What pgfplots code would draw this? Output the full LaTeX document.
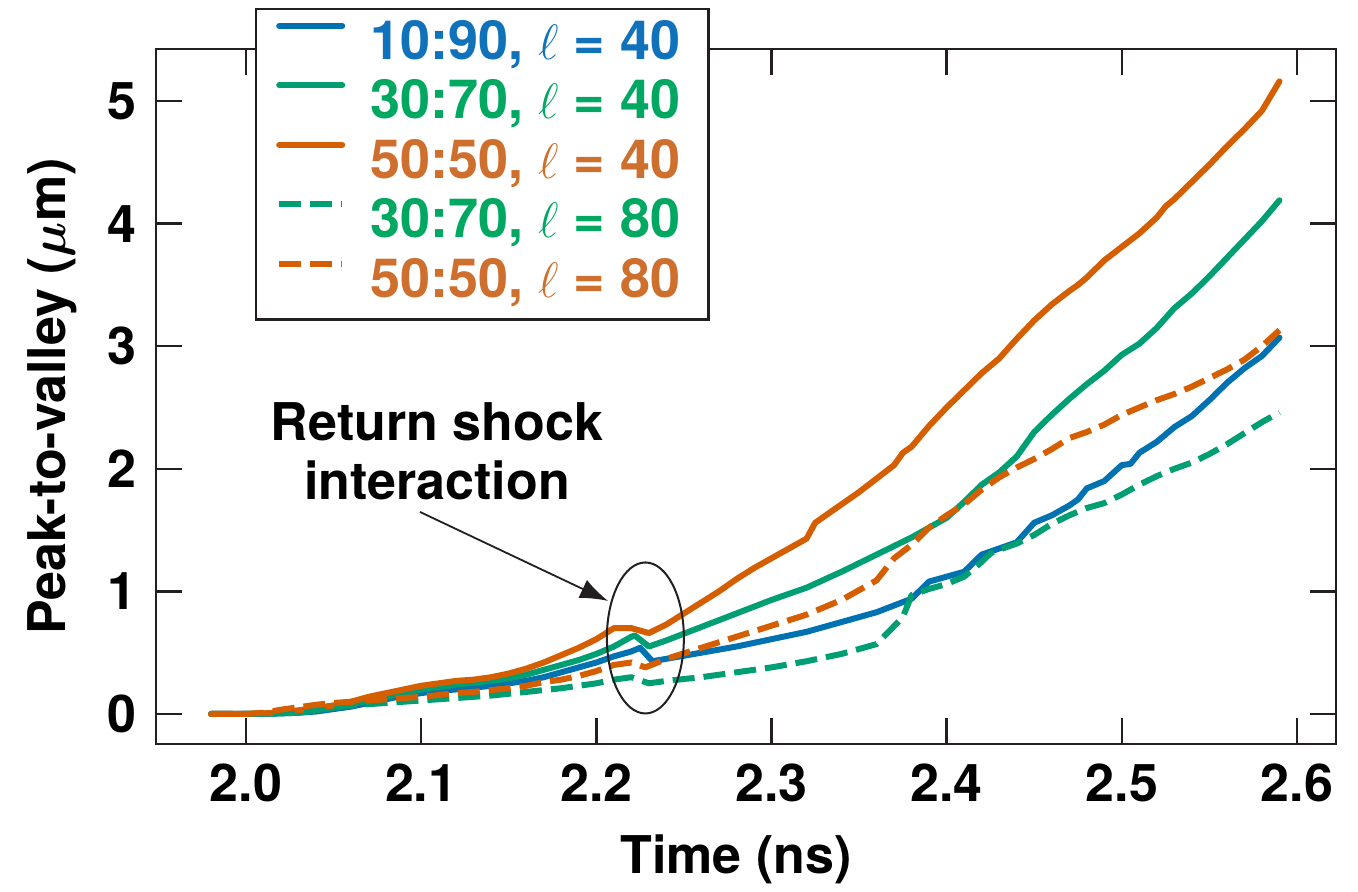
\documentclass[border=0pt]{standalone}
\usepackage{fontspec}
\setmainfont{TeX Gyre Heros}
\usepackage{amsmath}
\usepackage{pgfplots}
\pgfplotsset{compat=1.18}
\usetikzlibrary{arrows.meta}
\definecolor{cblue}{HTML}{0072B2}
\definecolor{cgreen}{HTML}{009E73}
\definecolor{corange}{HTML}{D55E00}
\definecolor{tblue}{HTML}{1072BA}
\definecolor{tgreen}{HTML}{00A862}
\definecolor{torange}{HTML}{CF6F2E}
\definecolor{frame}{HTML}{231F20}
\newcommand{\bigf}{\fontsize{26}{29.5}\selectfont\bfseries}
\newcommand{\legf}{\fontsize{27}{30}\selectfont\bfseries}

\pgfplotstableread{
x y
1.98 0
1.99 0
2.00 0
2.01 0
2.02 0.005
2.03 0.01
2.04 0.02
2.05 0.04
2.06 0.06
2.07 0.09
2.08 0.12
2.09 0.15
2.10 0.17
2.11 0.19
2.12 0.20
2.13 0.215
2.14 0.23
2.15 0.25
2.16 0.27
2.17 0.30
2.18 0.34
2.19 0.38
2.20 0.42
2.21 0.47
2.22 0.51
2.225 0.54
2.232 0.43
2.24 0.45
2.26 0.50
2.28 0.55
2.30 0.61
2.32 0.67
2.34 0.75
2.36 0.83
2.38 0.94
2.39 1.08
2.40 1.12
2.41 1.16
2.42 1.30
2.43 1.35
2.44 1.40
2.45 1.56
2.46 1.62
2.47 1.70
2.475 1.75
2.48 1.84
2.49 1.90
2.50 2.03
2.505 2.04
2.51 2.13
2.52 2.22
2.53 2.34
2.54 2.43
2.55 2.56
2.56 2.70
2.57 2.82
2.58 2.92
2.59 3.07
}\blueA

\pgfplotstableread{
x y
1.98 0
1.99 0
2.00 0
2.01 0
2.02 0.005
2.03 0.01
2.04 0.03
2.05 0.05
2.06 0.08
2.07 0.11
2.08 0.14
2.09 0.17
2.10 0.20
2.11 0.22
2.12 0.24
2.13 0.255
2.14 0.27
2.15 0.29
2.16 0.32
2.17 0.36
2.18 0.40
2.19 0.44
2.20 0.49
2.21 0.55
2.22 0.63
2.222 0.64
2.23 0.55
2.24 0.60
2.26 0.71
2.28 0.82
2.30 0.93
2.32 1.03
2.34 1.16
2.36 1.30
2.38 1.44
2.40 1.60
2.41 1.73
2.42 1.87
2.43 1.97
2.44 2.10
2.45 2.30
2.46 2.44
2.47 2.57
2.48 2.69
2.49 2.80
2.50 2.93
2.51 3.02
2.52 3.15
2.53 3.31
2.54 3.43
2.55 3.57
2.56 3.72
2.57 3.87
2.58 4.02
2.59 4.19
}\greenA

\pgfplotstableread{
x y
1.98 0
1.99 0
2.00 0
2.01 0.005
2.02 0.015
2.03 0.03
2.04 0.05
2.05 0.07
2.06 0.10
2.07 0.14
2.08 0.17
2.09 0.20
2.10 0.23
2.11 0.25
2.12 0.27
2.13 0.28
2.14 0.30
2.15 0.33
2.16 0.37
2.17 0.42
2.18 0.48
2.19 0.54
2.20 0.61
2.21 0.70
2.22 0.70
2.23 0.66
2.24 0.73
2.25 0.82
2.26 0.91
2.27 1.00
2.28 1.10
2.29 1.19
2.30 1.27
2.31 1.35
2.32 1.43
2.325 1.56
2.33 1.61
2.34 1.71
2.35 1.81
2.36 1.92
2.37 2.03
2.375 2.13
2.38 2.18
2.39 2.35
2.40 2.50
2.41 2.64
2.42 2.78
2.43 2.90
2.44 3.06
2.45 3.21
2.46 3.34
2.47 3.45
2.475 3.50
2.48 3.56
2.49 3.70
2.50 3.81
2.51 3.92
2.52 4.05
2.525 4.14
2.53 4.20
2.54 4.34
2.55 4.48
2.56 4.63
2.57 4.77
2.58 4.92
2.59 5.16
}\orangeA

\pgfplotstableread{
x y
1.98 0
1.99 0
2.00 0
2.01 0.0
2.02 0.01
2.03 0.02
2.04 0.04
2.05 0.055
2.06 0.07
2.07 0.08
2.08 0.09
2.09 0.10
2.10 0.11
2.11 0.12
2.12 0.13
2.13 0.14
2.14 0.15
2.15 0.165
2.16 0.18
2.17 0.195
2.18 0.21
2.19 0.23
2.20 0.25
2.21 0.28
2.22 0.30
2.23 0.25
2.24 0.27
2.26 0.30
2.28 0.34
2.30 0.38
2.32 0.43
2.34 0.49
2.36 0.57
2.375 0.79
2.38 0.97
2.39 1.02
2.40 1.06
2.41 1.12
2.42 1.24
2.425 1.31
2.43 1.34
2.44 1.39
2.45 1.46
2.46 1.55
2.47 1.62
2.48 1.68
2.49 1.72
2.50 1.79
2.51 1.87
2.52 1.94
2.53 2.00
2.54 2.05
2.55 2.12
2.56 2.20
2.57 2.29
2.58 2.38
2.59 2.46
}\greenB

\pgfplotstableread{
x y
1.98 0
1.99 0
2.00 0
2.01 0.01
2.02 0.035
2.03 0.055
2.04 0.075
2.05 0.09
2.06 0.10
2.07 0.11
2.08 0.12
2.09 0.13
2.10 0.14
2.11 0.155
2.12 0.17
2.13 0.18
2.14 0.195
2.15 0.21
2.16 0.23
2.17 0.26
2.18 0.28
2.19 0.31
2.20 0.35
2.21 0.40
2.22 0.42
2.228 0.38
2.235 0.42
2.24 0.45
2.26 0.54
2.28 0.63
2.30 0.72
2.32 0.81
2.34 0.93
2.36 1.09
2.37 1.27
2.38 1.38
2.39 1.52
2.40 1.62
2.41 1.71
2.42 1.83
2.43 1.93
2.44 2.01
2.45 2.08
2.46 2.16
2.47 2.25
2.48 2.30
2.49 2.36
2.50 2.44
2.51 2.50
2.52 2.56
2.53 2.61
2.54 2.67
2.55 2.74
2.56 2.81
2.57 2.89
2.58 3.00
2.59 3.13
}\orangeB

\begin{document}
\begin{tikzpicture}
\begin{axis}[
  at={(0,0)}, anchor=south west,
  scale only axis, width=590pt, height=347.5pt,
  xmin=1.9486, xmax=2.6223, ymin=-0.245, ymax=5.424,
  xtick={2.0,2.1,2.2,2.3,2.4,2.5,2.6},
  xticklabels={2.0,2.1,2.2,2.3,2.4,2.5,2.6},
  ytick={0,1,2,3,4,5},
  yticklabels={0,1,2,3,4,5},
  tick align=inside, major tick length=13pt,
  tick style={line width=1.25pt, color=frame},
  axis line style={line width=1.25pt, color=frame},
  tick label style={font=\bigf},
  xticklabel style={anchor=base, inner sep=0pt, yshift=-28.75pt},
  yticklabel style={anchor=east, inner sep=0pt, xshift=-9.5pt},
  label style={font=\bigf},
  xlabel={Time (ns)},
  ylabel={Peak-to-valley ($\boldsymbol{\mu}$m)},
  xlabel style={at={(axis description cs:0.4915,-0.1856)}, anchor=base, inner sep=0pt},
  ylabel style={at={(axis description cs:-0.0771,0.5)}, anchor=base, inner sep=0pt},
  legend cell align=left,
  legend image code/.code={\draw[#1] plot coordinates {(0pt,9.7pt) (31.5pt,9.7pt)};},
  legend style={at={(axis description cs:0.0839,1.059)}, anchor=north west,
    draw=frame, line width=1.25pt, fill=white,
    inner xsep=10pt, inner ysep=5.5pt, row sep=4.75pt, column sep=12.5pt,
    font=\legf,
    nodes={inner sep=0pt, text height=19.4pt, text depth=5.6pt}},
  every axis plot/.append style={line width=3pt, line join=round},
]
\addplot[cblue, line cap=round] table {\blueA};
\addlegendentry{\textcolor{tblue}{10:90, $\ell$ = 40}\hspace*{4pt}}
\addplot[cgreen, line cap=round] table {\greenA};
\addlegendentry{\textcolor{tgreen}{30:70, $\ell$ = 40}\hspace*{4pt}}
\addplot[corange, line cap=round] table {\orangeA};
\addlegendentry{\textcolor{torange}{50:50, $\ell$ = 40}\hspace*{4pt}}
\addplot[cgreen, dash pattern=on 11pt off 4.5pt] table {\greenB};
\addlegendentry{\textcolor{tgreen}{30:70, $\ell$ = 80}\hspace*{4pt}}
\addplot[corange, dash pattern=on 11pt off 4.5pt] table {\orangeB};
\addlegendentry{\textcolor{torange}{50:50, $\ell$ = 80}\hspace*{4pt}}

\draw[line width=1pt, color=frame] (axis cs:2.228,0.62) ellipse [x radius=19.25pt, y radius=37.75pt];
\draw[line width=0.9pt, color=frame, -{Latex[length=14pt,width=10pt]}] (axis cs:2.0993,1.648) -- (axis cs:2.2067,0.922);
\node[align=center, font=\bigf, inner sep=0pt] at (axis cs:2.109,2.14) {Return shock\\interaction};
\end{axis}
\pgfresetboundingbox
\path[use as bounding box] (-78pt,-73.5pt) rectangle (601pt,372pt);
\end{tikzpicture}
\end{document}
